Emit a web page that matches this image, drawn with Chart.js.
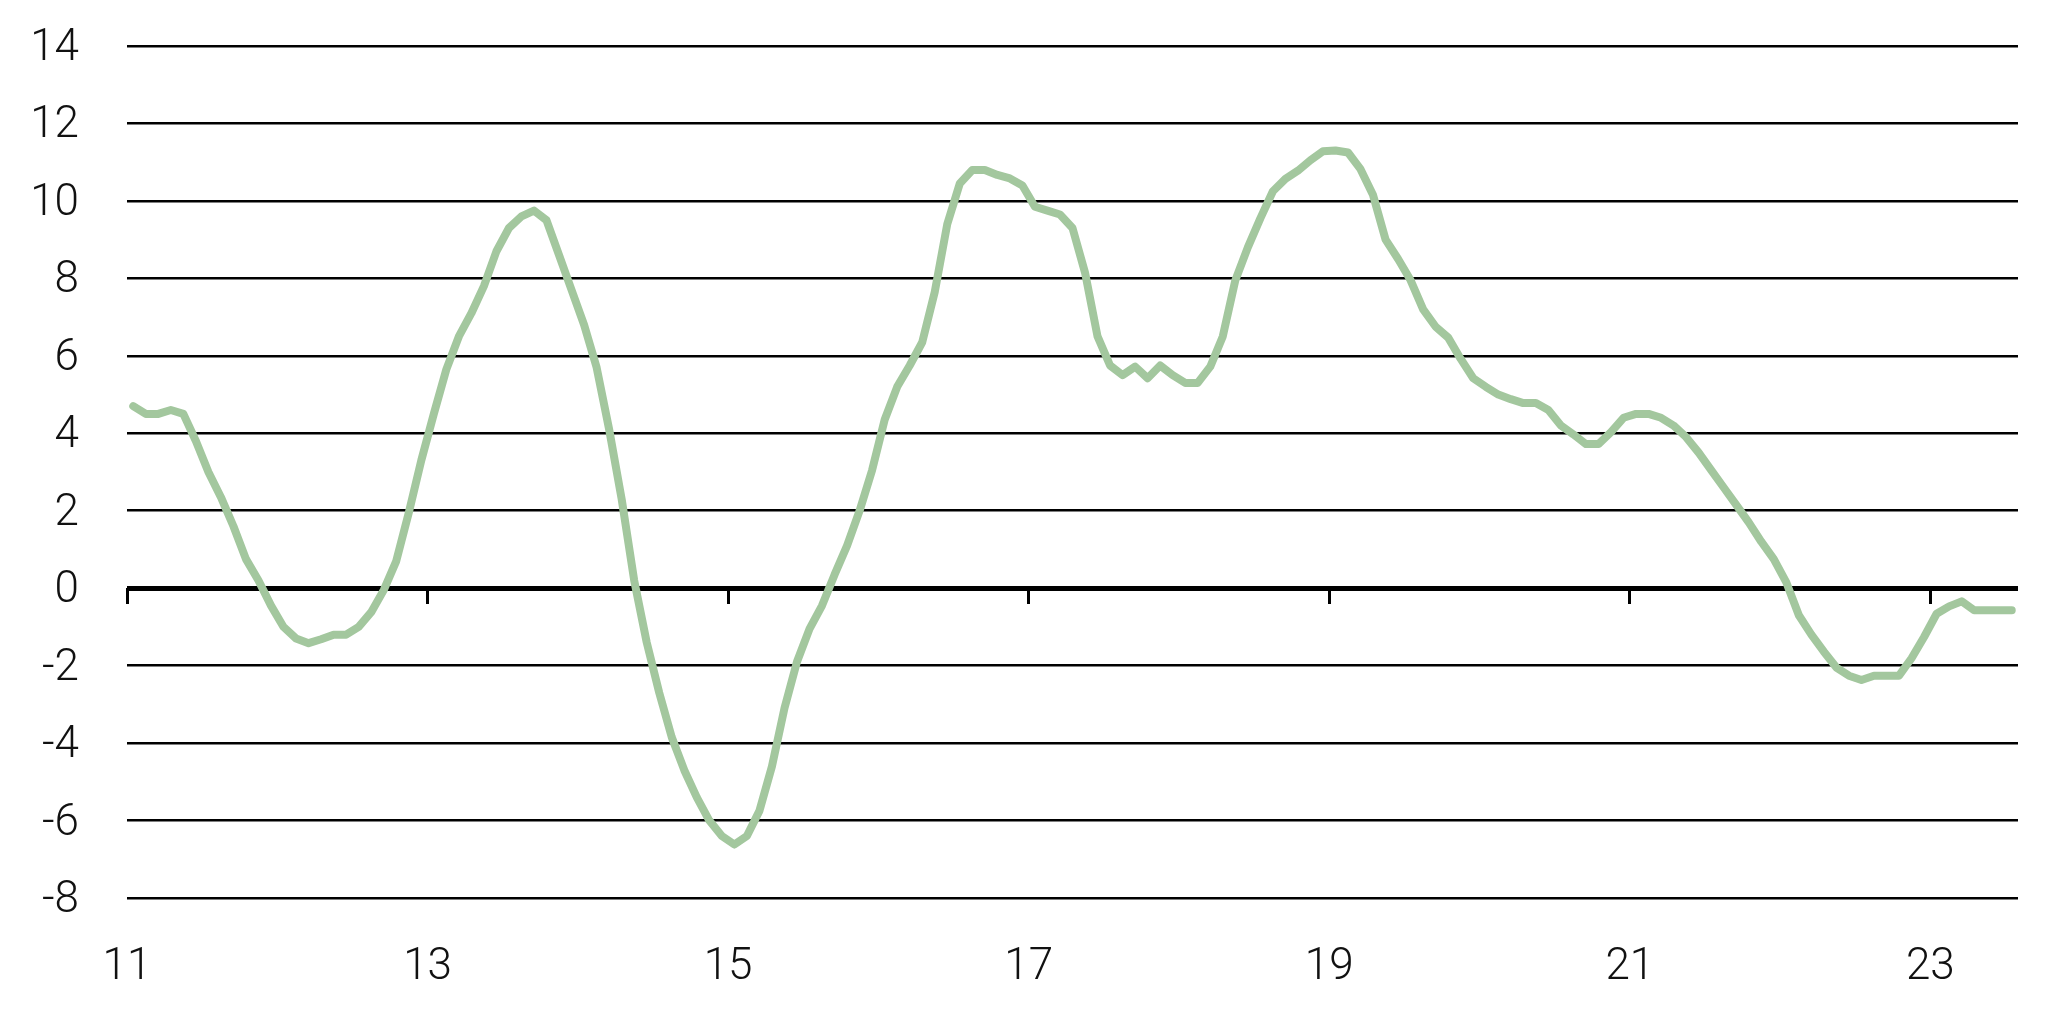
<!DOCTYPE html>
<html>
<head>
<meta charset="utf-8">
<script src="https://cdn.jsdelivr.net/npm/chart.js@4.4.1/dist/chart.umd.min.js"></script>
<style>
  html, body { margin: 0; padding: 0; background: #fff; }
  #wrap { width: 2064px; height: 1030px; }
</style>
</head>
<body>
<div id="wrap"><canvas id="chart" width="2064" height="1030"></canvas></div>
<script>
// monthly values, Jan 2011 .. Jul 2023
const values = [
  4.7, 4.5, 4.5, 4.6, 4.5, 3.8, 3.0, 2.35, 1.6, 0.75, 0.2, -0.45,
  -1.0, -1.3, -1.42, -1.32, -1.2, -1.2, -1.0, -0.62, -0.05, 0.7, 1.95, 3.3,
  4.5, 5.65, 6.5, 7.1, 7.8, 8.7, 9.3, 9.6, 9.75, 9.5, 8.6, 7.7,
  6.8, 5.7, 4.1, 2.3, 0.2, -1.4, -2.7, -3.85, -4.7, -5.4, -6.0, -6.4,
  -6.62, -6.4, -5.75, -4.6, -3.1, -1.9, -1.05, -0.45, 0.35, 1.1, 2.0, 3.05,
  4.35, 5.2, 5.75, 6.35, 7.65, 9.4, 10.45, 10.8, 10.8, 10.67, 10.58, 10.4,
  9.85, 9.75, 9.65, 9.3, 8.15, 6.5, 5.75, 5.5, 5.72, 5.42, 5.75, 5.5,
  5.3, 5.3, 5.72, 6.5, 7.95, 8.8, 9.55, 10.25, 10.57, 10.78, 11.05, 11.28,
  11.3, 11.25, 10.82, 10.15, 9.0, 8.5, 7.95, 7.2, 6.75, 6.47, 5.92, 5.42,
  5.2, 5.0, 4.88, 4.78, 4.78, 4.6, 4.2, 3.97, 3.72, 3.72, 4.03, 4.4,
  4.5, 4.5, 4.4, 4.2, 3.9, 3.5, 3.05, 2.6, 2.15, 1.7, 1.2, 0.75,
  0.15, -0.7, -1.2, -1.64, -2.05, -2.26, -2.37, -2.26, -2.26, -2.26, -1.81, -1.26,
  -0.66, -0.47, -0.34, -0.57, -0.57, -0.57, -0.57
];
const yearLabels = ['11', '13', '15', '17', '19', '21', '23'];
const monthsPerLabel = 24;

const yMin = -8, yMax = 14, yStep = 2;

const labelFont = { family: "Roboto, 'Liberation Sans', Arial, sans-serif", size: 44, weight: 300 };
const lineColor = '#a3c79e';

const points = values.map((v, i) => ({ x: i + 0.5, y: v }));

const xRange = {
  type: 'linear',
  min: 0,
  max: values.length,
  ticks: { stepSize: monthsPerLabel, includeBounds: false, autoSkip: false }
};

new Chart(document.getElementById('chart'), {
  type: 'line',
  data: {
    datasets: [{
      data: points,
      borderColor: lineColor,
      borderWidth: 8,
      pointRadius: 0,
      tension: 0,
      borderCapStyle: 'round',
      borderJoinStyle: 'round',
      fill: false
    }]
  },
  options: {
    responsive: false,
    animation: false,
    devicePixelRatio: 1,
    layout: { padding: { left: 0, right: 46, top: 46, bottom: 0 } },
    plugins: { legend: { display: false }, tooltip: { enabled: false } },
    scales: {
      x: {
        ...xRange,
        position: 'bottom',
        grid: { display: false, drawTicks: false },
        border: { display: false },
        ticks: {
          ...xRange.ticks,
          maxRotation: 0,
          padding: 44,
          color: '#111',
          font: labelFont,
          callback: (v) => yearLabels[v / monthsPerLabel] ?? ''
        },
        afterFit: (s) => { s.height = 132; }
      },
      xAxisLine: {
        ...xRange,
        axis: 'x',
        position: { y: 0 },
        grid: {
          drawOnChartArea: false,
          drawTicks: true,
          tickLength: 16,
          tickWidth: 3,
          tickColor: '#000'
        },
        border: { display: false },
        ticks: { ...xRange.ticks, display: false }
      },
      y: {
        min: yMin,
        max: yMax,
        grid: {
          color: '#000',
          lineWidth: (ctx) => ctx.tick && ctx.tick.value === 0 ? 5 : 2.5,
          drawTicks: true,
          tickLength: 48,
          tickColor: 'rgba(0,0,0,0)'
        },
        border: { display: false },
        ticks: {
          stepSize: yStep,
          padding: 0,
          labelOffset: 3,
          color: '#111',
          font: labelFont
        },
        afterFit: (s) => { s.width = 127; }
      }
    }
  }
});
</script>
</body>
</html>
